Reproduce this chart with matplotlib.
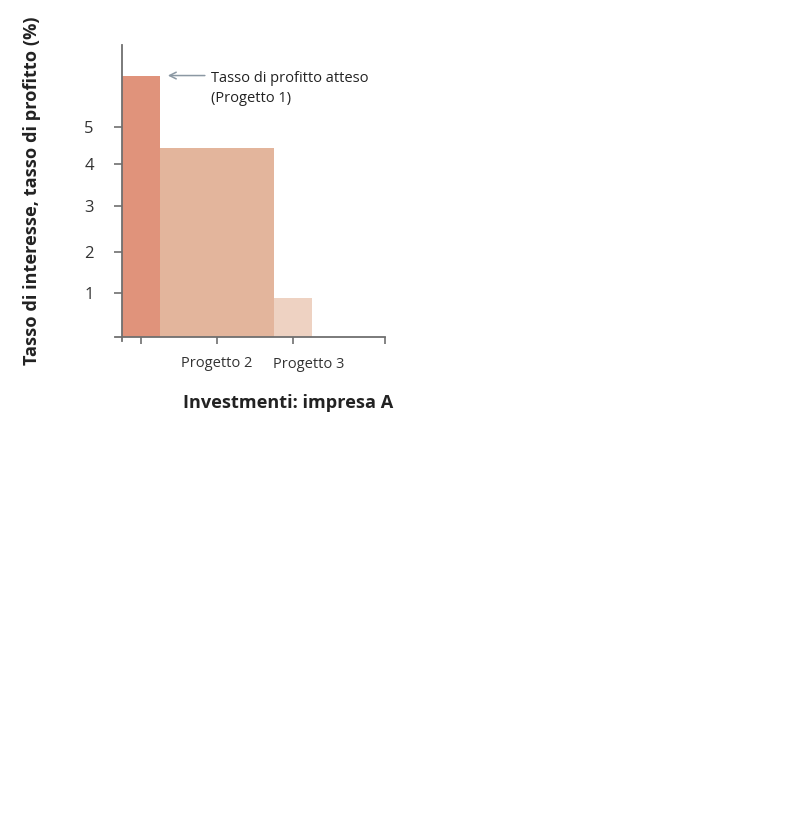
import numpy as np
import matplotlib
matplotlib.use("Agg")
import matplotlib.pyplot as plt

# ---- data ----
projects = ["Progetto 1", "Progetto 2", "Progetto 3"]
investment = [1.0, 2.95, 1.0]         # width of each project (investment size)
profit_rate = [6.42, 4.43, 0.90]      # expected profit rate (%)
bar_colors = ["#E0937B", "#E3B59C", "#EED2C2"]
y_ticks = [1, 2, 3, 4, 5]
# the drawn axis is not evenly spaced: relative screen position of each tick value
scale_vals = [0, 1, 2, 3, 4, 5, 8]
scale_pos = [0, 43.3, 84.7, 131.3, 173.3, 209.7, 318.9]

plt.rcParams['font.family'] = ['Open Sans', 'DejaVu Sans']

fig = plt.figure(figsize=(8.10, 8.36), dpi=100)
ax = fig.add_axes([115/810, 1-341/836, (385-115)/810, (341-45)/836])

def fwd(v):
    v = np.asarray(v)
    return np.interp(v, scale_vals, scale_pos) + np.where(v < 0, v * 43.3, 0)

def inv(p):
    p = np.asarray(p)
    return np.interp(p, scale_pos, scale_vals) + np.where(p < 0, p / 43.3, 0)

ax.set_yscale('function', functions=(fwd, inv))

lefts = np.concatenate([[0], np.cumsum(investment)[:-1]])
ax.bar(lefts, profit_rate, width=investment, align='edge', color=bar_colors,
       edgecolor='none', linewidth=0)

ax.set_xlim(-0.17, 6.83)
ax.set_ylim(-0.1, 7.26)

for s in ['top', 'right']:
    ax.spines[s].set_visible(False)
ax.spines['left'].set_position(('data', 0))
ax.spines['bottom'].set_position(('data', 0))
for s in ['left', 'bottom']:
    ax.spines[s].set_color('#6f6f6f')
    ax.spines[s].set_linewidth(1.3)

centers = lefts + np.asarray(investment) / 2
ax.set_xticks(list(centers) + [6.83])
ax.set_xticklabels(['', 'Progetto 2', '', ''])
ax.tick_params(axis='x', length=5, width=1.2, color='#6f6f6f', pad=9,
               labelsize=10.5, labelcolor='#333333')
ax.text(centers[2] + 0.4, -0.46, 'Progetto 3', ha='center', va='top',
        fontsize=10.5, color='#333333')

ax.set_yticks(y_ticks)
ax.set_yticklabels([str(t) for t in y_ticks])
ax.tick_params(axis='y', length=6, width=1.2, color='#6f6f6f', pad=14,
               labelsize=12, labelcolor='#333333')

# arrow (horizontal) pointing at top of Progetto 1 bar
ax.annotate('', xy=(1.2, profit_rate[0]), xycoords='data',
            xytext=(2.16, profit_rate[0]), textcoords='data',
            arrowprops=dict(arrowstyle='->', color='#8b98a3', lw=1.1,
                            shrinkA=0, shrinkB=0, mutation_scale=12))
ax.annotate('Tasso di profitto atteso\n(Progetto 1)',
            xy=(2.32, profit_rate[0]), xycoords='data',
            xytext=(0, -9.4), textcoords='offset points',
            ha='left', va='center', fontsize=10.5, color='#222222',
            linespacing=1.45)

fig.text(32/810, 1-191/836, 'Tasso di interesse, tasso di profitto (%)',
         rotation=90, ha='center', va='center', fontsize=13.1,
         fontweight='bold', color='#222222')
fig.text(288/810, 1-403/836, 'Investmenti: impresa A', ha='center',
         va='center', fontsize=13.1, fontweight='bold', color='#222222')

fig.savefig('out.png', dpi=100)
